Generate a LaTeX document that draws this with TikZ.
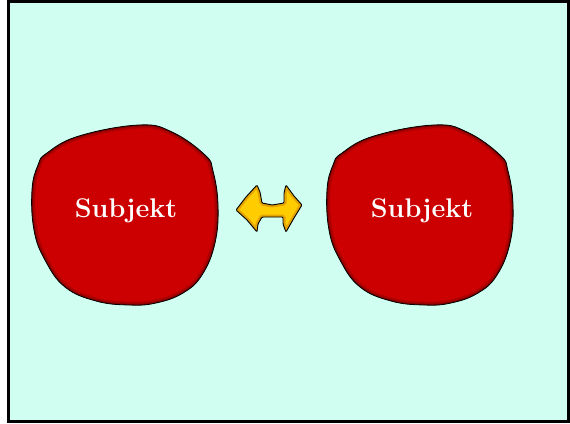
\documentclass[tikz,border=0pt]{standalone}
\usetikzlibrary{calc}
\definecolor{mint}{HTML}{D0FFF2}
\definecolor{blobred}{HTML}{CC0000}
\definecolor{gold}{HTML}{FFCC00}
\tikzset{
  frame/.style={draw=black,line width=3pt,fill=mint},
  blob/.style={fill=blobred},
  blobedge/.style={draw=black,line width=0.8pt},
  subj/.style={text=white,font=\fontsize{27}{27}\selectfont\bfseries},
  swap/.style={fill=gold},
  swapedge/.style={draw=black,line width=0.9pt}
}
% outline of one subject blob, centred on (0,0)
\newcommand\blobpath{plot[smooth cycle,tension=0.7] coordinates {(-78,-62) (-46,-79) (14,-90) (47,-83) (80,-60) (88,-44) (93,-10) (90,28) (77,60) (58,78) (31,88) (4,90) (-29,86) (-60,72) (-80,45) (-91,15) (-93,-25) (-87,-50)}}
% the two-way arrow between the subjects
\newcommand\swappath{[rounded corners=1pt] (236,210) -- (246,197) -- (257,185) -- (260,192) -- (262,203) -- (272,205) -- (284,203) -- (284,193) -- (286,185) -- (294,196) -- (302,205) -- (294,218) -- (286,232) -- (283,224) -- (283,217) -- (272,217) -- (262,217) -- (258,224) -- (257,232) -- (247,220) -- cycle}
\begin{document}
\begin{tikzpicture}[x=1pt,y=-1pt]
  \useasboundingbox (0,0) rectangle (570,423);
  \draw[frame] (8.5,1.5) rectangle (568.5,421.5);

  \coordinate (blobL) at (125,215);
  \coordinate (blobR) at (420,215);

  \foreach \c in {blobL,blobR}{
    \begin{scope}[shift={(\c)}]
      \fill[blob] \blobpath;
      \begin{scope}
        \clip \blobpath;
        \draw[black,opacity=0.15,line width=7pt] \blobpath;
        \draw[black,opacity=0.25,line width=3pt] \blobpath;
      \end{scope}
      \draw[blobedge] \blobpath;
    \end{scope}
  }

  \node[subj] (subjL) at ($(blobL)+(1,-4)$) {Subjekt};
  \node[subj] (subjR) at ($(blobR)+(2,-4)$) {Subjekt};

  \fill[swap] \swappath;
  \begin{scope}
    \clip \swappath;
    \draw[orange!70!black,opacity=0.35,line width=5pt] \swappath;
  \end{scope}
  \draw[swapedge] \swappath;
\end{tikzpicture}
\end{document}
